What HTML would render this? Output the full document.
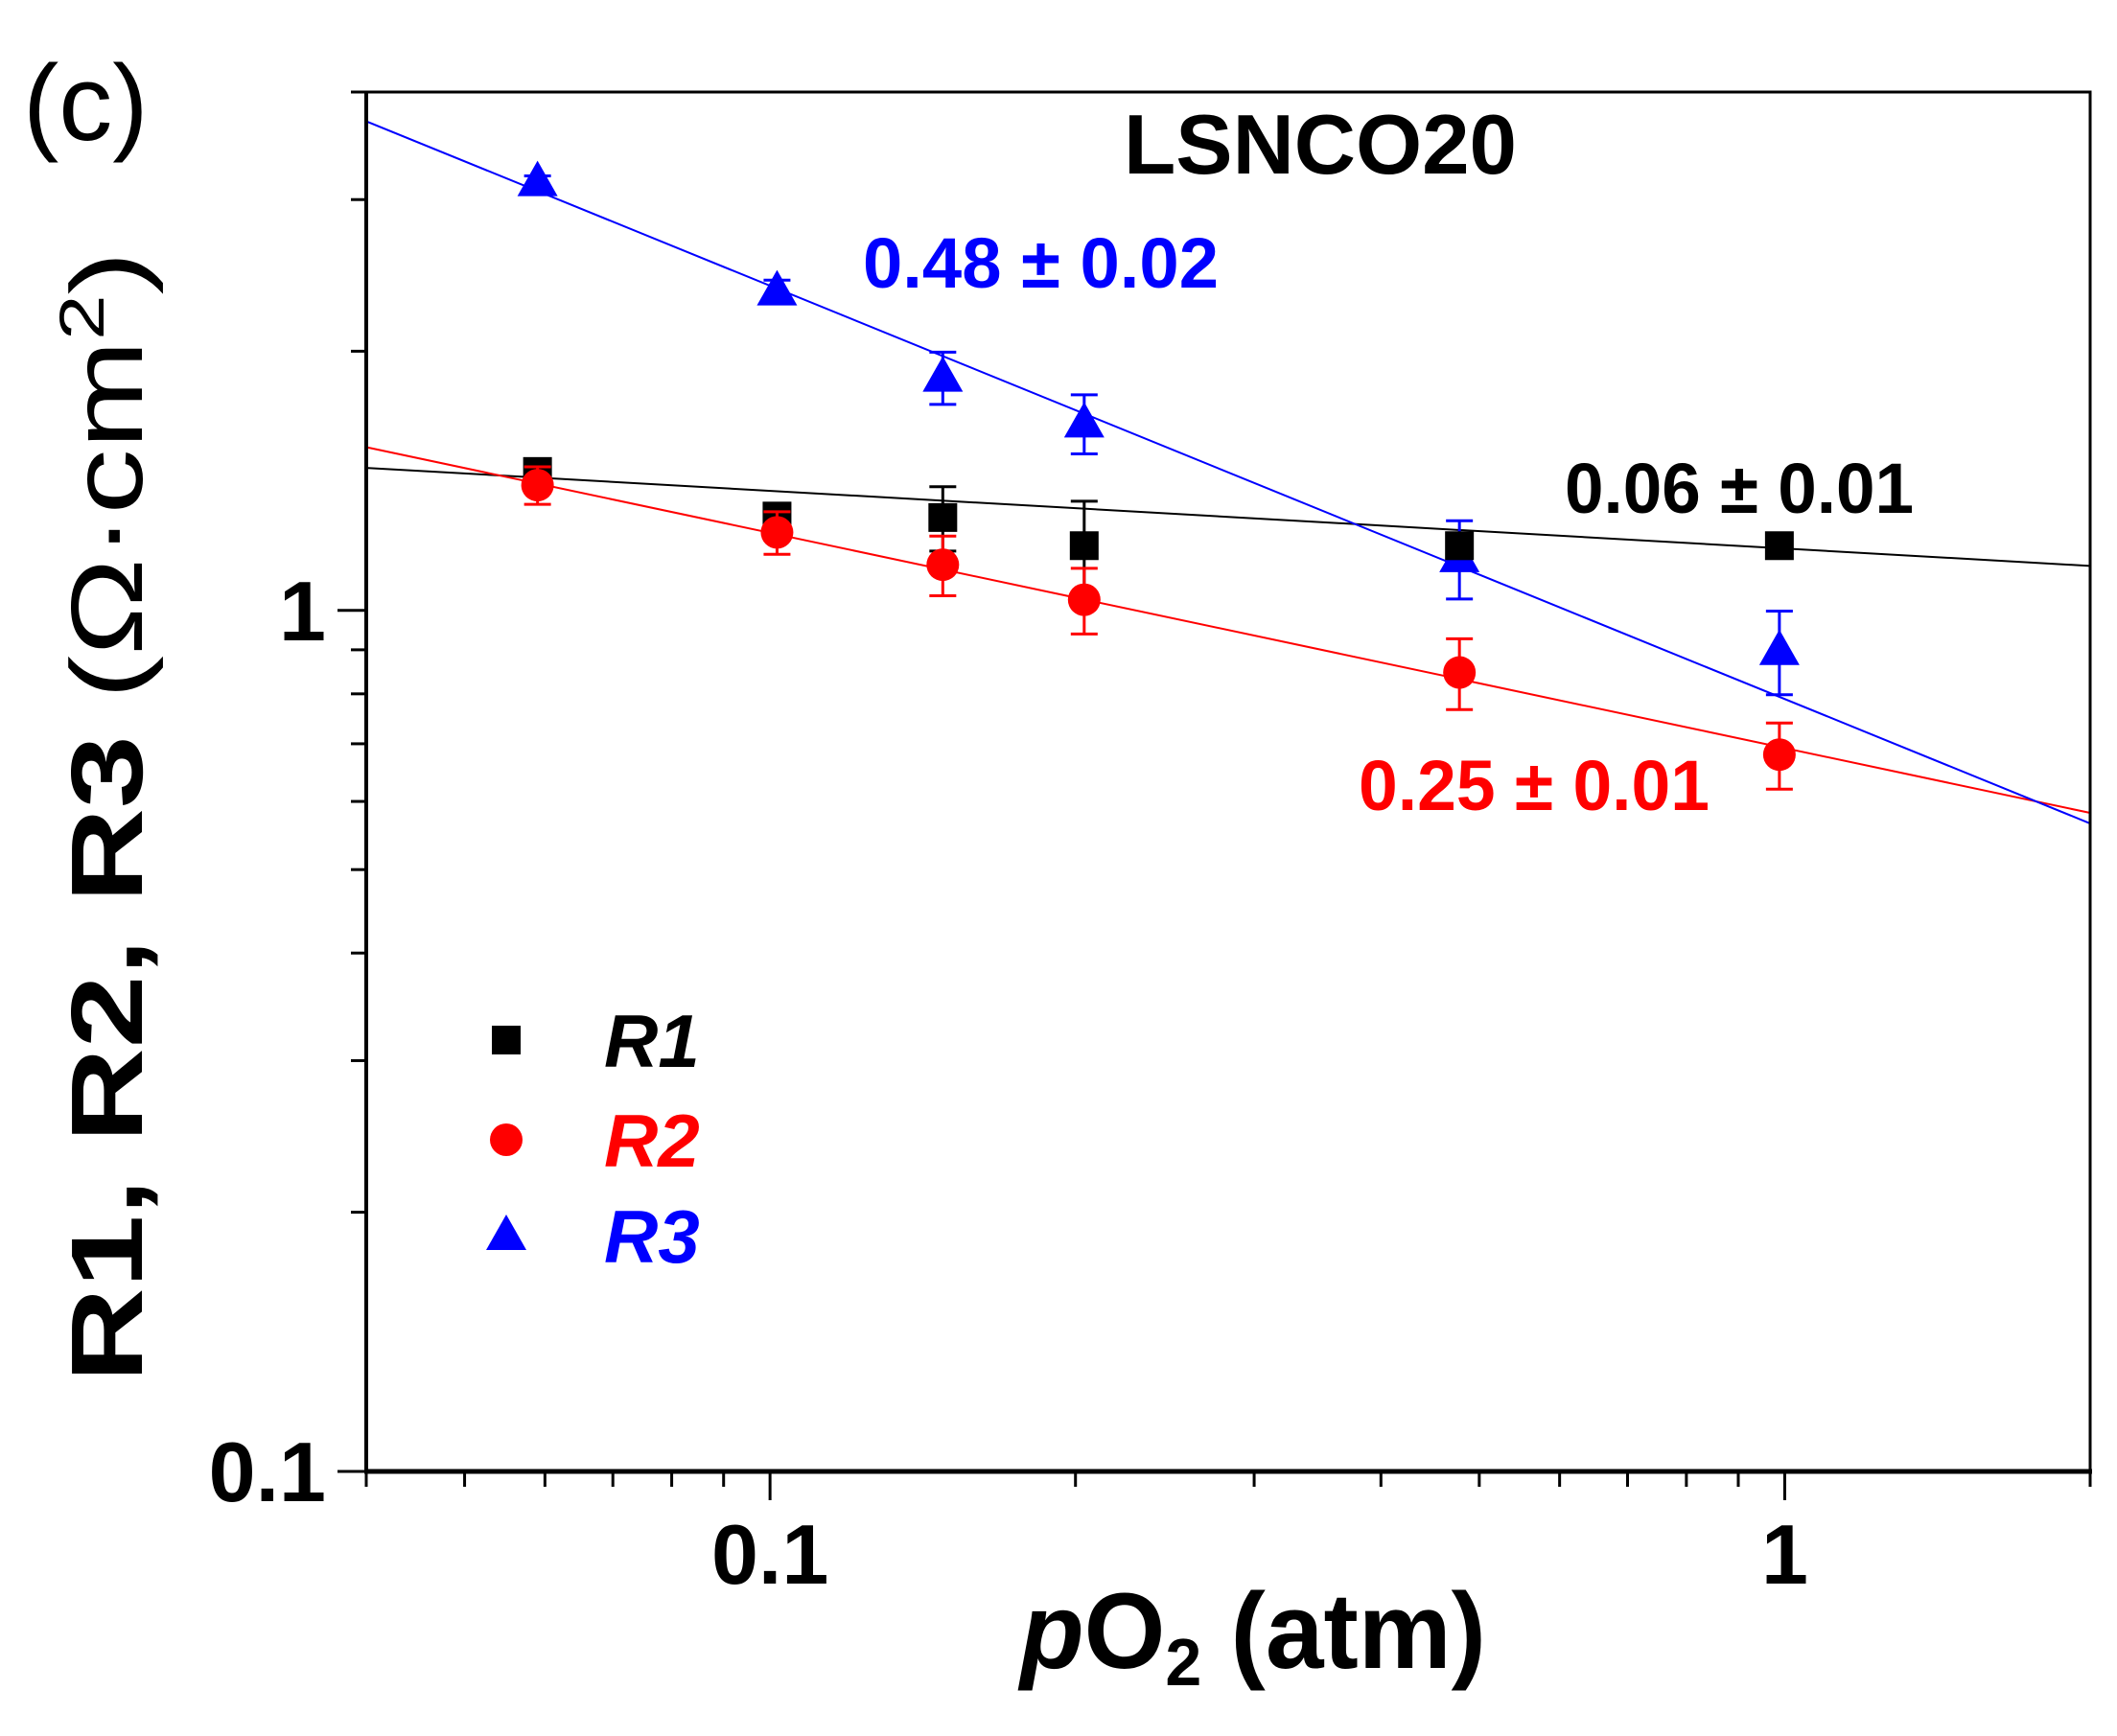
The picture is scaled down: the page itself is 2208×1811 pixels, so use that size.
<!DOCTYPE html>
<html><head><meta charset="utf-8"><style>
html,body{margin:0;padding:0;background:#fff}
svg{display:block}
text{font-family:"Liberation Sans",Arial,sans-serif}
</style></head><body>
<svg id="chart" width="2208" height="1811" viewBox="0 0 2208 1811" xmlns="http://www.w3.org/2000/svg">
<rect x="0" y="0" width="2208" height="1811" fill="#fff"/>
<text x="24" y="146" font-size="112">(c)</text>
<text x="1377" y="181" font-size="88" font-weight="bold" text-anchor="middle" textLength="410" lengthAdjust="spacingAndGlyphs">LSNCO20</text>
<g id="plot"></g>
<text x="900" y="300" font-size="74" font-weight="bold" fill="#0000ff" textLength="371" lengthAdjust="spacingAndGlyphs">0.48 ± 0.02</text>
<text x="1632" y="535" font-size="74" font-weight="bold" fill="#000" textLength="364" lengthAdjust="spacingAndGlyphs">0.06 ± 0.01</text>
<text x="1417" y="845" font-size="74" font-weight="bold" fill="#ff0000" textLength="366" lengthAdjust="spacingAndGlyphs">0.25 ± 0.01</text>
<text x="1064" y="1740" font-size="112" font-weight="bold" textLength="486" lengthAdjust="spacingAndGlyphs"><tspan font-style="italic">p</tspan>O<tspan font-size="70" dy="18">2</tspan><tspan dy="-18"> (atm)</tspan></text>
<text transform="translate(148,852) rotate(-90)" font-size="106" font-weight="bold" text-anchor="middle" textLength="1180" lengthAdjust="spacingAndGlyphs">R1, R2, R3 <tspan font-weight="normal">(Ω·cm</tspan><tspan font-weight="normal" font-size="66" dy="-40">2</tspan><tspan font-weight="normal" dy="40">)</tspan></text>
<g id="legend"></g>
</svg>
<script>
const xs = [0.059, 0.1016, 0.148, 0.204, 0.478, 0.988];
const r1 = [1.45, 1.287, 1.282, 1.189, 1.189, 1.189];
const r1Err = [0.05, 0.04, 0.11, 0.15, 0.04, 0.03];
const r2 = [1.398, 1.232, 1.130, 1.029, 0.847, 0.680];
const r2Err = [0.07, 0.07, 0.09, 0.09, 0.08, 0.06];
const r3 = [3.146, 2.349, 1.865, 1.650, 1.151, 0.898];
const r3Err = [0.05, 0.07, 0.13, 0.13, 0.12, 0.10];
const fitA = [1.18, 0.692, 0.789];
const fitN = [0.067, 0.25, 0.48];
const xTickLabels = ["0.1", "1"];
const yTickLabels = ["0.1", "1"];

const NS = "http://www.w3.org/2000/svg";
const L = 382, R = 2180, T = 96, B = 1535;
const xMin = 0.04, xMax = 2, yMin = 0.1, yMax = 4;
function X(v){ return L + (Math.log10(v) - Math.log10(xMin)) / (Math.log10(xMax) - Math.log10(xMin)) * (R - L); }
function Y(v){ return B - (Math.log10(v) - Math.log10(yMin)) / (Math.log10(yMax) - Math.log10(yMin)) * (B - T); }
function mk(tag, attrs, parent){ const e = document.createElementNS(NS, tag); for (const k in attrs) e.setAttribute(k, attrs[k]); parent.appendChild(e); return e; }
const plot = document.getElementById('plot');

const colors = ['#000000', '#ff0000', '#0000ff'];
const names = ['r1', 'r2', 'r3'];
for (let s = 0; s < 3; s++) {
  const y0 = fitA[s] * Math.pow(xMin, -fitN[s]);
  const y1 = fitA[s] * Math.pow(xMax, -fitN[s]);
  const ln = mk('line', {x1: X(xMin), y1: Y(y0), x2: X(xMax), y2: Y(y1), stroke: colors[s], 'stroke-width': 2}, plot);
  
  
}

function errBar(x, v, e, col, name){
  const g = mk('g', {}, plot);
  
  
  const cx = X(x), yt = Y(v + e), yb = Y(v - e);
  mk('line', {x1: cx, y1: yt, x2: cx, y2: yb, stroke: col, 'stroke-width': 3}, g);
  mk('line', {x1: cx - 14, y1: yt, x2: cx + 14, y2: yt, stroke: col, 'stroke-width': 3}, g);
  mk('line', {x1: cx - 14, y1: yb, x2: cx + 14, y2: yb, stroke: col, 'stroke-width': 3}, g);
}
function square(cx, cy, parent){ return mk('rect', {x: cx - 15, y: cy - 15, width: 30, height: 30, fill: '#000'}, parent); }
function circle(cx, cy, parent){ return mk('circle', {cx: cx, cy: cy, r: 17, fill: '#ff0000'}, parent); }
function tri(cx, cy, parent){ return mk('polygon', {points: `${cx},${cy-22} ${cx-21},${cy+15} ${cx+21},${cy+15}`, fill: '#0000ff'}, parent); }

for (let i = 0; i < xs.length; i++) {
  errBar(xs[i], r3[i], r3Err[i], '#0000ff', 'errorbar-r3');
  const t = tri(X(xs[i]), Y(r3[i]), plot);
  
  
}
for (let i = 0; i < xs.length; i++) {
  errBar(xs[i], r1[i], r1Err[i], '#000000', 'errorbar-r1');
  const q = square(X(xs[i]), Y(r1[i]), plot);
  
  
}
for (let i = 0; i < xs.length; i++) {
  errBar(xs[i], r2[i], r2Err[i], '#ff0000', 'errorbar-r2');
  const c = circle(X(xs[i]), Y(r2[i]), plot);
  
  
}

const fr = mk('rect', {x: L, y: T, width: R - L, height: B - T, fill: 'none', stroke: '#000', 'stroke-width': 3}, plot);


const xa = mk('line', {x1: L - 2, y1: B, x2: R + 2, y2: B, stroke: '#000', 'stroke-width': 5}, plot);


const ya = mk('line', {x1: L, y1: T, x2: L, y2: B + 2, stroke: '#000', 'stroke-width': 4}, plot);



for (let d = -2; d <= 0; d++) {
  for (let m = 1; m <= 9; m++) {
    const v = m * Math.pow(10, d);
    if (v < xMin - 1e-9 || v > xMax + 1e-9) continue;
    const major = m === 1;
    const tk = mk('line', {x1: X(v), y1: B, x2: X(v), y2: B + (major ? 30 : 16), stroke: '#000', 'stroke-width': 3}, plot);
    
    
  }
}
const xTickVals = [0.1, 1];
for (let i = 0; i < xTickLabels.length; i++) {
  const tl = mk('text', {x: X(xTickVals[i]), y: 1652, 'font-size': 88, 'font-weight': 'bold', 'text-anchor': 'middle'}, plot);
  tl.textContent = xTickLabels[i];
  
  
}
for (let d = -1; d <= 0; d++) {
  for (let m = 1; m <= 9; m++) {
    const v = m * Math.pow(10, d);
    if (v < yMin - 1e-9 || v > yMax + 1e-9) continue;
    const major = m === 1;
    const tk = mk('line', {x1: L, y1: Y(v), x2: L - (major ? 30 : 16), y2: Y(v), stroke: '#000', 'stroke-width': 3}, plot);
    
    
  }
}
const yTickVals = [0.1, 1];
for (let i = 0; i < yTickLabels.length; i++) {
  const tl = mk('text', {x: 340, y: Y(yTickVals[i]) + 31, 'font-size': 88, 'font-weight': 'bold', 'text-anchor': 'end'}, plot);
  tl.textContent = yTickLabels[i];
  
  
}

const lg = document.getElementById('legend');
const legNames = ['R1', 'R2', 'R3'];
const legY = [1085, 1189, 1289];
const makers = [square, circle, tri];
for (let i = 0; i < 3; i++) {
  const g = mk('g', {}, lg);
  
  
  makers[i](528, legY[i], g);
  const t = mk('text', {x: 630, y: legY[i] + 28, 'font-size': 78, 'font-weight': 'bold', 'font-style': 'italic', fill: colors[i]}, g);
  t.textContent = legNames[i];
}
</script>
</body></html>
